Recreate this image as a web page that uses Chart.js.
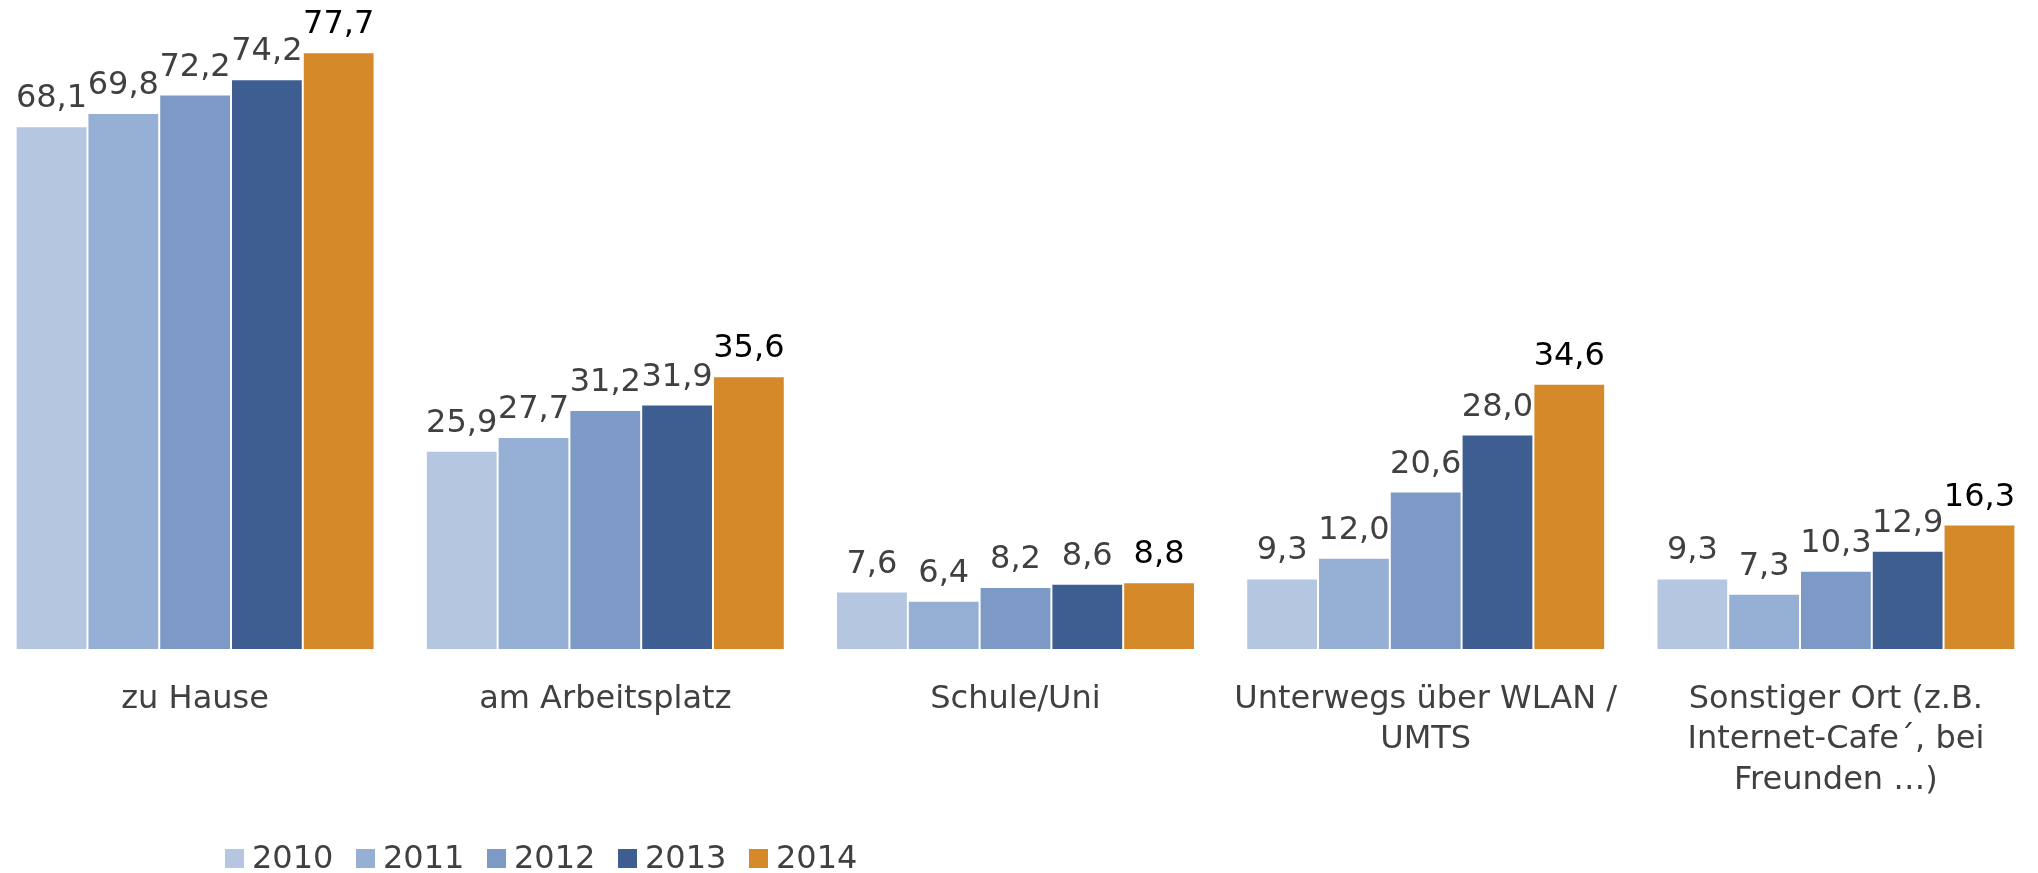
<!DOCTYPE html>
<html>
<head>
<meta charset="utf-8">
<script src="https://cdn.jsdelivr.net/npm/chart.js@4/dist/chart.umd.min.js"></script>
<style>
  html, body { margin: 0; padding: 0; background: #ffffff; overflow: hidden; }
  #wrap { width: 2038px; height: 873px; position: relative; overflow: hidden; }
  #c { position: absolute; left: -10px; top: 0; }
</style>
</head>
<body>
<div id="wrap"><canvas id="c" width="2051" height="873"></canvas></div>
<script>
const categories = [
  ["zu Hause"],
  ["am Arbeitsplatz"],
  ["Schule/Uni"],
  ["Unterwegs über WLAN /", "UMTS"],
  ["Sonstiger Ort (z.B.", "Internet-Cafe\u00b4, bei", "Freunden \u2026)"]
];
const years = ["2010", "2011", "2012", "2013", "2014"];
const values2010 = [68.1, 25.9, 7.6, 9.3, 9.3];
const values2011 = [69.8, 27.7, 6.4, 12.0, 7.3];
const values2012 = [72.2, 31.2, 8.2, 20.6, 10.3];
const values2013 = [74.2, 31.9, 8.6, 28.0, 12.9];
const values2014 = [77.7, 35.6, 8.8, 34.6, 16.3];

const colors = ["#B4C6E0", "#96AFD5", "#7D99C6", "#3E5E92", "#D68929"];
const labelColors = ["#404040", "#404040", "#404040", "#404040", "#000000"];
const FONT = "'DejaVu Sans', Verdana, sans-serif";
const FS = 32;

const seriesValues = [values2010, values2011, values2012, values2013, values2014];

const datasets = years.map((y, i) => ({
  label: y,
  data: seriesValues[i],
  backgroundColor: colors[i],
  borderColor: "rgba(255,255,255,0.75)",
  borderWidth: 1,
  borderSkipped: false,
  categoryPercentage: 0.875,
  barPercentage: 1.0
}));

const valueLabels = {
  id: "valueLabels",
  afterDatasetsDraw(chart) {
    const ctx = chart.ctx;
    ctx.save();
    ctx.font = FS + "px " + FONT;
    ctx.textAlign = "center";
    ctx.textBaseline = "alphabetic";
    chart.data.datasets.forEach((ds, i) => {
      const meta = chart.getDatasetMeta(i);
      ctx.fillStyle = labelColors[i];
      meta.data.forEach((el, j) => {
        const v = ds.data[j];
        ctx.fillText(v.toFixed(1).replace(".", ","), el.x, el.y - 19);
      });
    });
    ctx.restore();
  }
};

const customLegend = {
  id: "customLegend",
  afterDraw(chart) {
    const ctx = chart.ctx;
    ctx.save();
    ctx.font = FS + "px " + FONT;
    ctx.textAlign = "left";
    ctx.textBaseline = "middle";
    const startX = 235, step = 131, boxY = 849, box = 19;
    chart.data.datasets.forEach((ds, i) => {
      const x = startX + i * step;
      ctx.fillStyle = ds.backgroundColor;
      ctx.fillRect(x, boxY, box, box);
      ctx.fillStyle = "#404040";
      ctx.fillText(ds.label, x + 27, boxY + box / 2 + 1);
    });
    ctx.restore();
  }
};

new Chart(document.getElementById("c"), {
  type: "bar",
  data: { labels: categories, datasets: datasets },
  options: {
    responsive: false,
    animation: false,
    devicePixelRatio: 1,
    layout: { padding: { left: 0, right: 0, top: 0, bottom: 0 } },
    plugins: {
      legend: { display: false },
      tooltip: { enabled: false }
    },
    scales: {
      x: {
        grid: { display: false, drawTicks: false },
        border: { display: false },
        ticks: {
          color: "#404040",
          font: { family: FONT, size: FS, lineHeight: 1.27 },
          padding: 29,
          maxRotation: 0,
          autoSkip: false
        },
        afterFit(scale) { scale.height = 223; }
      },
      y: {
        display: false,
        min: 0,
        max: 84.5
      }
    }
  },
  plugins: [valueLabels, customLegend]
});
</script>
</body>
</html>
